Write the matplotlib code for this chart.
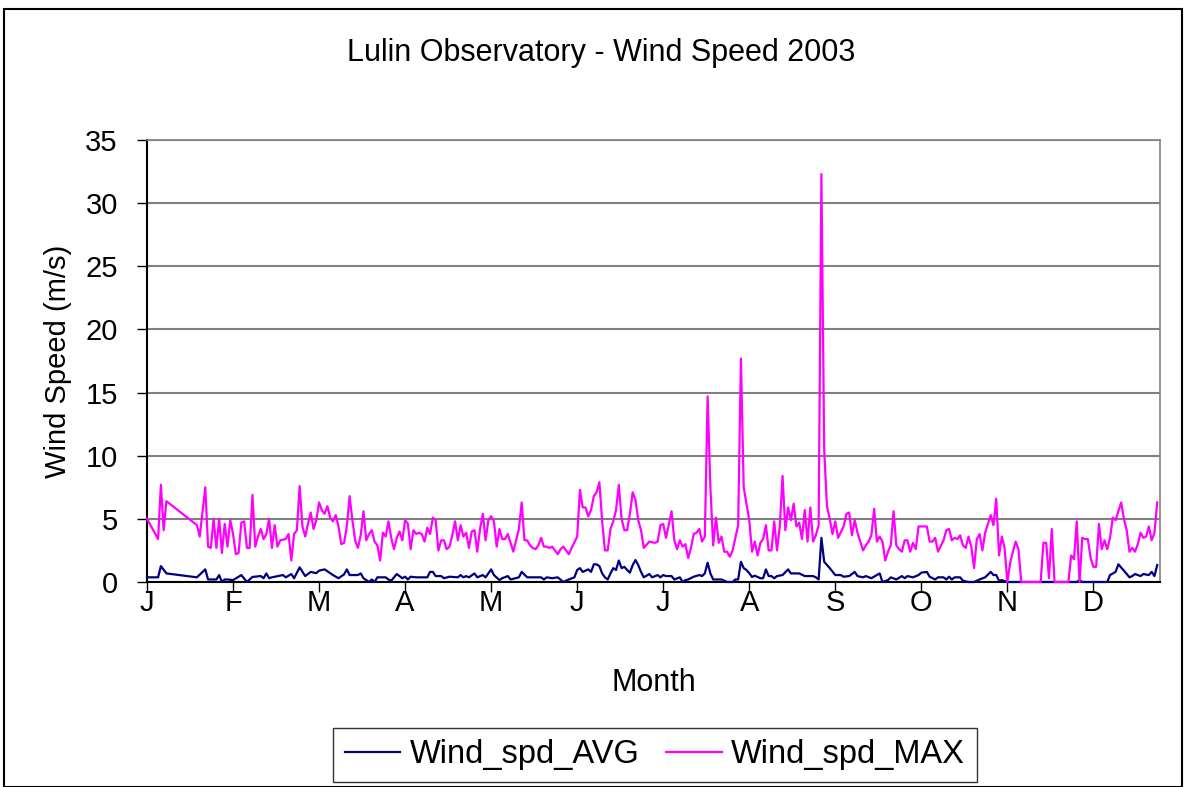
import numpy as np
import matplotlib.pyplot as plt
from matplotlib.patches import Rectangle

plt.rcParams['font.family'] = ['Liberation Sans', 'DejaVu Sans']

month_labels = ['J', 'F', 'M', 'A', 'M', 'J', 'J', 'A', 'S', 'O', 'N', 'D']

# daily maximum wind speed (day of year, m/s)
max_days = [0, 4, 5, 6, 7, 18, 19, 21, 22, 23, 24, 25, 26, 27, 28, 29, 30, 31, 32, 33,
            34, 35, 36, 37, 38, 39, 40, 41, 42, 43, 44, 45, 46, 47, 48, 50, 51, 52, 53, 54,
            55, 56, 57, 58, 59, 60, 61, 62, 63, 64, 65, 66, 67, 68, 69, 70, 71,
            72, 73, 74, 75, 76, 77, 78, 79, 80, 81, 82, 83, 84, 85, 86, 87, 88, 89, 90,
            91, 92, 93, 94, 95, 96, 97, 98, 99, 100, 101, 102, 103, 104, 105, 106, 107, 108,
            109, 110, 111, 112, 113, 114, 115, 116, 117, 118, 119, 120, 121, 122, 123, 124,
            125, 126, 127, 128, 129, 130, 131, 132, 133, 134, 135, 136, 137, 138, 139, 140,
            141, 142, 143,
            144, 145, 146, 148, 149, 150, 152, 153, 155, 156, 157, 158, 159, 160, 161, 162,
            163, 164, 165, 166, 167, 168, 169, 170, 171, 172, 173, 174, 175, 176, 177, 178,
            179, 181, 183, 184, 185, 186, 187, 189, 190, 191, 192, 193, 194, 195, 196, 197,
            198, 199, 200, 201, 202, 203, 204, 205, 206, 207, 208, 209, 210, 211, 212, 213,
            214, 215, 216,
            217, 218, 219, 220, 221, 222, 223, 224, 225, 226, 227, 228, 229, 230, 231, 232,
            233, 234, 235, 236, 237, 238, 239, 240, 241, 242, 243, 244, 245, 246, 247, 248,
            249, 251, 252, 253, 254, 255, 256, 258, 259, 260, 261, 262, 263, 264, 265, 266,
            267, 268, 269, 270, 271, 272, 273, 274, 275, 276, 277, 278, 280, 281, 282, 283,
            284, 285, 287, 288,
            289, 290, 291, 292, 293, 294, 295, 296, 297, 298, 299, 300, 301, 302, 303, 304,
            305, 306, 307, 308, 309, 310, 311, 312, 313, 314, 315, 322, 323, 324, 325, 326,
            327, 332, 333, 334, 335, 336, 337, 338, 339, 340, 341, 342, 343, 344, 345, 346,
            347, 348, 349, 350, 351, 352, 353, 354, 355, 356, 357, 358, 359, 360, 361, 362,
            363, 364]
max_vals = [5.0, 3.4, 7.7, 4.1, 6.4, 4.5, 3.6, 7.5, 2.8, 2.7, 5.0, 2.7, 5.0, 2.3, 4.6, 2.8, 4.9, 3.8, 2.2, 2.3,
            4.7, 4.8, 2.7, 2.7, 6.9, 2.8, 3.6, 4.2, 3.4, 3.8, 5.0, 2.7, 4.5, 2.8, 3.3, 3.4, 3.8, 1.7, 3.8, 4.1,
            7.6, 4.4, 3.6, 4.6, 5.5, 4.2, 4.9, 6.3, 5.7, 5.4, 6.0, 5.1, 4.8, 5.3, 4.4, 3.0, 3.1,
            4.4, 6.8, 4.9, 3.3, 2.7, 3.7, 5.6, 3.3, 3.8, 4.1, 3.2, 2.9, 1.7, 3.9, 3.6, 4.8, 3.5, 2.6, 3.5,
            4.0, 3.3, 4.9, 4.6, 2.6, 4.1, 3.8, 3.9, 3.8, 3.2, 4.3, 3.8, 5.1, 4.9, 2.5, 3.3, 3.3, 2.6,
            2.8, 3.7, 4.8, 3.3, 4.5, 3.6, 3.9, 2.7, 4.0, 4.1, 2.4, 4.2, 5.4, 3.3, 4.9, 5.2,
            4.8, 2.8, 4.2, 3.4, 3.4, 3.8, 3.1, 2.4, 3.3, 4.2, 6.3, 3.3, 3.3, 2.9, 2.7, 2.6,
            2.9, 3.5, 2.8,
            2.8, 2.7, 2.8, 2.2, 2.6, 2.8, 2.2, 2.7, 3.6, 7.3, 5.9, 5.9, 5.2, 5.7, 6.8, 7.1,
            7.9, 4.8, 2.5, 2.5, 4.2, 4.8, 5.7, 7.7, 5.0, 4.1, 4.1, 5.4, 7.1, 6.5, 4.9, 4.1,
            2.7, 3.2, 3.1, 3.2, 4.5, 4.6, 3.5, 5.6, 3.3, 2.6, 3.3, 2.8, 3.0, 1.9, 2.7, 3.8,
            3.9, 4.2, 3.2, 3.6, 14.7, 7.5, 2.9, 5.1, 3.1, 3.6, 2.4, 2.4, 2.0, 2.5, 3.5, 4.5,
            17.7, 7.5, 6.2,
            4.9, 2.4, 3.2, 2.1, 3.1, 3.4, 4.5, 2.5, 2.5, 4.8, 2.5, 4.4, 8.4, 4.1, 5.9, 4.9,
            6.2, 4.4, 4.7, 3.4, 5.7, 3.2, 5.9, 3.2, 3.7, 4.5, 32.3, 10.5, 6.0, 5.0, 3.8, 4.8,
            3.5, 4.4, 5.4, 5.5, 3.7, 4.9, 3.9, 2.5, 2.9, 3.2, 3.7, 5.8, 3.2, 3.6, 3.2, 1.7,
            2.4, 2.9, 5.6, 2.9, 2.6, 2.4, 3.3, 3.3, 2.4, 3.1, 2.6, 4.4, 4.4, 4.4, 3.2, 3.2,
            3.5, 2.4, 3.3, 4.1,
            4.2, 3.3, 3.5, 3.4, 3.7, 2.9, 2.7, 3.6, 2.8, 1.1, 3.4, 3.8, 2.5, 3.9, 4.6, 5.3,
            4.5, 6.6, 2.1, 3.6, 2.7, 0.0, 1.5, 2.4, 3.2, 2.6, 0.0, 0.0, 3.1, 3.1, 0.3, 4.2,
            0.0, 0.0, 2.1, 1.8, 4.8, 0.0, 3.5, 3.4, 3.4, 1.9, 1.2, 1.2, 4.6, 2.6, 3.3, 2.6,
            3.5, 5.1, 4.9, 5.6, 6.3, 5.0, 4.1, 2.4, 2.7, 2.4, 3.0, 3.9, 3.5, 3.6, 4.4, 3.3,
            3.9, 6.3]

# daily average wind speed (day of year, m/s)
avg_days = [0, 4, 5, 7, 18, 21, 22, 25, 26, 27, 28, 29, 31, 34, 36, 38, 41, 42, 43, 44,
            45, 49, 50, 52, 53, 55, 57, 59, 61, 62, 64, 67, 69, 71,
            72, 73, 76, 77, 78, 80, 81, 82, 83, 86, 87, 88, 89, 90, 91, 92, 93, 94, 95, 97,
            101, 102, 103, 104, 106, 107, 109, 112, 113, 114, 115, 116, 118, 119, 121, 122,
            124, 125, 127, 128, 130, 131, 134, 135, 137, 142, 143,
            144, 146, 148, 150, 152, 154, 155, 156, 157, 159, 160, 161, 162, 163, 164, 165,
            166, 167, 168, 169, 170, 171, 172, 173, 174, 175, 176, 177, 178, 179, 181, 182,
            184, 185, 186, 187, 189, 190, 192, 193, 194, 195, 197, 199, 200, 201, 202, 203,
            204, 207, 209, 211, 212, 213, 214, 215, 216,
            217, 218, 219, 220, 221, 222, 223, 224, 225, 226, 227, 229, 231, 232, 235, 237,
            240, 241, 242, 243, 244, 246, 248, 250, 251, 253, 255, 256, 258, 259, 261, 263,
            264, 265, 267, 268, 270, 272, 273, 274, 276, 278, 279, 281, 282, 284, 285, 287, 288,
            289, 290, 291, 293, 294, 296, 298, 300, 302, 304, 305, 306, 307, 308, 310, 335,
            336, 337, 346, 347, 349, 350, 352, 354, 355, 356, 358, 359, 361, 362, 363, 364]
avg_vals = [0.37, 0.37, 1.26, 0.68, 0.37, 1.0, 0.2, 0.2, 0.55, 0.0, 0.2, 0.2, 0.15, 0.55, 0.0, 0.4, 0.47, 0.3, 0.68, 0.3,
            0.37, 0.55, 0.37, 0.63, 0.3, 1.16, 0.47, 0.8, 0.7, 0.9, 1.0, 0.55, 0.3, 0.6,
            1.0, 0.55, 0.55, 0.68, 0.3, 0.0, 0.2, 0.0, 0.37, 0.37, 0.2, 0.1, 0.37, 0.63, 0.47, 0.3, 0.42, 0.2, 0.42, 0.37,
            0.37, 0.8, 0.8, 0.47, 0.47, 0.3, 0.42, 0.37, 0.55, 0.37, 0.47, 0.37, 0.68, 0.37, 0.55, 0.37,
            1.0, 0.55, 0.15, 0.3, 0.47, 0.2, 0.37, 0.8, 0.37, 0.37, 0.2,
            0.37, 0.3, 0.37, 0.0, 0.2, 0.37, 0.95, 1.1, 0.8, 1.0, 0.8, 1.4, 1.4, 1.26, 0.68, 0.37,
            0.2, 0.68, 1.1, 0.95, 1.7, 1.1, 1.2, 0.95, 0.74, 1.34, 1.74, 1.34, 0.8, 0.37, 0.63, 0.37,
            0.55, 0.37, 0.55, 0.47, 0.47, 0.2, 0.37, 0.0, 0.15, 0.2, 0.42, 0.55, 0.47, 0.68, 1.53, 0.68,
            0.2, 0.2, 0.0, 0.0, 0.2, 0.2, 1.6, 1.1, 0.95,
            0.7, 0.4, 0.5, 0.4, 0.3, 0.3, 1.0, 0.47, 0.47, 0.3, 0.47, 0.55, 1.0, 0.68, 0.68, 0.47,
            0.47, 0.37, 0.2, 3.5, 1.6, 1.1, 0.55, 0.55, 0.42, 0.47, 0.8, 0.47, 0.37, 0.47, 0.3, 0.55,
            0.68, 0.0, 0.15, 0.37, 0.2, 0.47, 0.3, 0.47, 0.37, 0.55, 0.74, 0.8, 0.42, 0.2, 0.37, 0.37, 0.2,
            0.42, 0.2, 0.37, 0.37, 0.1, 0.0, 0.0, 0.2, 0.37, 0.8, 0.55, 0.55, 0.1, 0.15, 0.0, 0.0,
            0.15, 0.0, 0.0, 0.55, 0.8, 1.4, 0.9, 0.37, 0.47, 0.63, 0.47, 0.63, 0.55, 0.8, 0.47, 1.34]

W, H = 1189, 787
fig = plt.figure(figsize=(W / 100, H / 100), dpi=100)
ax = fig.add_axes([147 / W, 1 - 582 / H, (1160 - 147) / W, (582 - 140) / H])

# outer chart frame
fig.patches.append(Rectangle((4 / W, 0.0), (1182 - 4) / W, 1 - 9 / H,
                             transform=fig.transFigure, fill=False,
                             edgecolor='black', linewidth=1.5))

ax.plot(avg_days, avg_vals, color='#000080', lw=1.6, label='Wind_spd_AVG',
        zorder=3, clip_on=False)
ax.plot(max_days, max_vals, color='#FF00FF', lw=1.6, label='Wind_spd_MAX',
        zorder=4, clip_on=False)

ax.set_xlim(0, 365)
ax.set_ylim(0, 35)
ax.set_yticks(np.arange(0, 36, 5))
ax.set_xticks(np.arange(12) * 31)
ax.set_xticklabels(month_labels)
ax.yaxis.grid(True, color='#808080', lw=1.5)
ax.set_axisbelow(True)
ax.tick_params(axis='both', labelsize=21, length=7, width=1, direction='out')
ax.tick_params(axis='x', pad=-2)
ax.tick_params(axis='y', pad=14)
for s in ['top', 'right']:
    ax.spines[s].set_color('#808080')
    ax.spines[s].set_linewidth(1.2)
for s in ['left', 'bottom']:
    ax.spines[s].set_linewidth(1.5)

ax.set_xlabel('Month', fontsize=22)
ax.xaxis.set_label_coords(0.5, (582 - 668) / 442)
ax.set_ylabel('Wind Speed (m/s)', fontsize=21)
ax.yaxis.set_label_coords((72 - 147) / 1013, 0.5)
fig.text(601 / W, 1 - 53 / H, 'Lulin Observatory - Wind Speed 2003', fontsize=22,
         ha='center', va='center')

leg = fig.legend(loc='center', bbox_to_anchor=(655 / W, 1 - 755 / H), ncol=2,
                 fontsize=23.5, frameon=True, fancybox=False, edgecolor='black',
                 handlelength=1.7, handletextpad=0.3, columnspacing=0.8,
                 borderpad=0.35)
leg.get_frame().set_linewidth(1.0)

fig.savefig('out.png', dpi=100)
